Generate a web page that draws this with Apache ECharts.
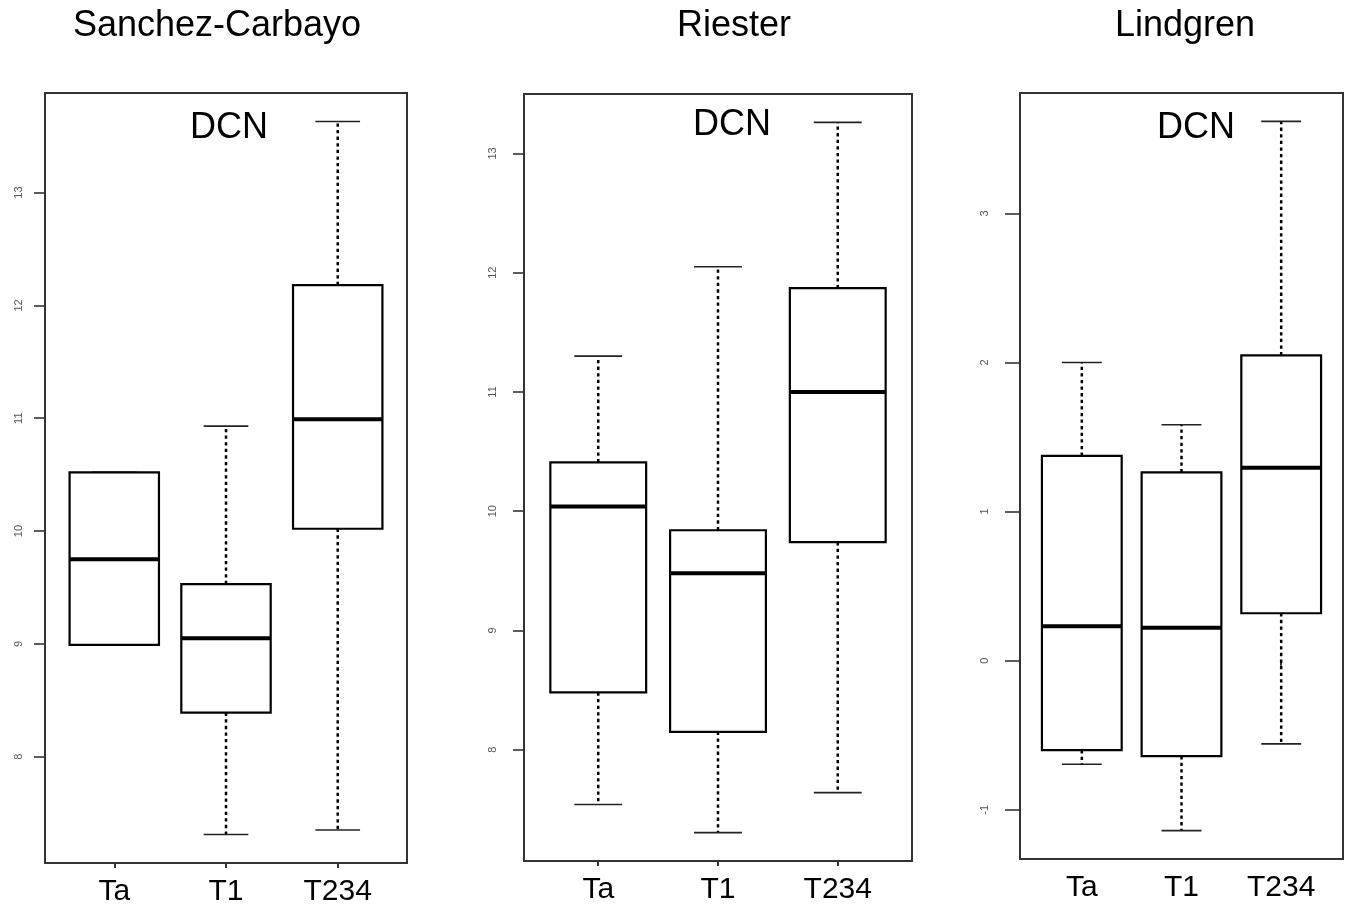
<!DOCTYPE html>
<html>
<head>
<meta charset="utf-8">
<script src="https://cdn.jsdelivr.net/npm/echarts@6/dist/echarts.min.js"></script>
<style>
  html, body { margin: 0; padding: 0; background: #fff; }
  #chart { width: 1347px; height: 910px; }
</style>
</head>
<body>
<div id="chart"></div>
<script>
// ---- data ----
const categories = ['Ta', 'T1', 'T234'];
const panelNames = ['Sanchez-Carbayo', 'Riester', 'Lindgren'];
const geneLabel = 'DCN';
// each row: [lower whisker, Q1, median, Q3, upper whisker]
const sanchezStats = [
  [8.99, 8.99, 9.75, 10.52, 10.52],
  [7.31, 8.39, 9.05, 9.53, 10.93],
  [7.35, 10.02, 10.99, 12.18, 13.63]
];
const riesterStats = [
  [7.54, 8.48, 10.04, 10.41, 11.30],
  [7.305, 8.15, 9.48, 9.84, 12.05],
  [7.64, 9.74, 11.00, 11.87, 13.26]
];
const lindgrenStats = [
  [-0.695, -0.60, 0.23, 1.374, 2.00],
  [-1.14, -0.64, 0.22, 1.263, 1.582],
  [-0.558, 0.318, 1.294, 2.048, 3.617]
];
const sanchezTicks = [8, 9, 10, 11, 12, 13];
const riesterTicks = [8, 9, 10, 11, 12, 13];
const lindgrenTicks = [-1, 0, 1, 2, 3];
const xTicks = [1, 2, 3];

// ---- layout ----
const panels = [
  { stats: sanchezStats, ticks: sanchezTicks, grid: { left: 45, top: 93, width: 362, height: 770 }, labelMargin: 21, tickLen: 11, titleX: 217, dcnX: 229, dcnY: 128 },
  { stats: riesterStats, ticks: riesterTicks, grid: { left: 524, top: 94, width: 388, height: 767 }, labelMargin: 26, tickLen: 11, titleX: 734, dcnX: 732, dcnY: 125 },
  { stats: lindgrenStats, ticks: lindgrenTicks, grid: { left: 1020, top: 93, width: 323, height: 766 }, labelMargin: 30, tickLen: 15, titleX: 1185, dcnX: 1196, dcnY: 128 }
];

function renderBox(params, api) {
  const x = api.value(0);
  const low = api.value(1), q1 = api.value(2), med = api.value(3), q3 = api.value(4), high = api.value(5);
  const half = api.size([0.8, 0])[0] / 2;
  const pLow = api.coord([x, low]);
  const pQ1 = api.coord([x, q1]);
  const pMed = api.coord([x, med]);
  const pQ3 = api.coord([x, q3]);
  const pHigh = api.coord([x, high]);
  const cx = pMed[0];
  const dash = { stroke: '#000', lineWidth: 2.5, lineDash: [3.3, 3.3] };
  const cap = { stroke: '#222', lineWidth: 1.6 };
  return {
    type: 'group',
    children: [
      { type: 'line', shape: { x1: cx, y1: pQ3[1], x2: cx, y2: pHigh[1] }, style: dash },
      { type: 'line', shape: { x1: cx, y1: pQ1[1], x2: cx, y2: pLow[1] }, style: dash },
      { type: 'line', shape: { x1: cx - half / 2, y1: pHigh[1], x2: cx + half / 2, y2: pHigh[1] }, style: cap },
      { type: 'line', shape: { x1: cx - half / 2, y1: pLow[1], x2: cx + half / 2, y2: pLow[1] }, style: cap },
      { type: 'rect', shape: { x: cx - half, y: pQ3[1], width: 2 * half, height: pQ1[1] - pQ3[1] }, style: { fill: '#fff', stroke: '#000', lineWidth: 2.2 } },
      { type: 'line', shape: { x1: cx - half, y1: pMed[1], x2: cx + half, y2: pMed[1] }, style: { stroke: '#000', lineWidth: 4 } }
    ]
  };
}

const grids = [], xAxes = [], yAxes = [], series = [], graphics = [];
panels.forEach((p, i) => {
  let dmin = Infinity, dmax = -Infinity;
  p.stats.forEach(r => { dmin = Math.min(dmin, r[0]); dmax = Math.max(dmax, r[4]); });
  const ext = (dmax - dmin) * 0.04;
  grids.push(Object.assign({ show: true, borderColor: '#333', borderWidth: 2, backgroundColor: 'transparent', containLabel: false }, p.grid));
  xAxes.push({
    type: 'value', gridIndex: i, min: 0.38, max: 3.62,
    axisLine: { show: false }, splitLine: { show: false },
    axisTick: { show: true, customValues: xTicks, length: 5, lineStyle: { color: '#333', width: 2 } },
    axisLabel: { show: true, customValues: xTicks, formatter: v => categories[Math.round(v) - 1], fontSize: 30, color: '#000', margin: 14, fontFamily: 'Liberation Sans, Arial, sans-serif' }
  });
  yAxes.push({
    type: 'value', gridIndex: i, min: dmin - ext, max: dmax + ext,
    axisLine: { show: false }, splitLine: { show: false },
    axisTick: { show: true, customValues: p.ticks, length: p.tickLen, lineStyle: { color: '#333', width: 1.6 } },
    axisLabel: { show: true, customValues: p.ticks, rotate: 90, fontSize: 11, color: '#555', margin: p.labelMargin, fontFamily: 'Liberation Sans, Arial, sans-serif' }
  });
  series.push({
    type: 'custom', xAxisIndex: i, yAxisIndex: i, renderItem: renderBox, clip: false,
    encode: { x: 0, y: [1, 2, 3, 4, 5] },
    data: p.stats.map((r, k) => [k + 1].concat(r))
  });
  graphics.push({ type: 'text', x: p.titleX, y: 26, style: { text: panelNames[i], fontSize: 36, fill: '#000', align: 'center', verticalAlign: 'middle', fontFamily: 'Liberation Sans, Arial, sans-serif' } });
  graphics.push({ type: 'text', x: p.dcnX, y: p.dcnY, style: { text: geneLabel, fontSize: 36, fill: '#000', align: 'center', verticalAlign: 'middle', fontFamily: 'Liberation Sans, Arial, sans-serif' } });
});

const chart = echarts.init(document.getElementById('chart'), null, { renderer: 'canvas' });
chart.setOption({
  backgroundColor: '#fff',
  animation: false,
  grid: grids,
  xAxis: xAxes,
  yAxis: yAxes,
  series: series,
  graphic: graphics
});
</script>
</body>
</html>
